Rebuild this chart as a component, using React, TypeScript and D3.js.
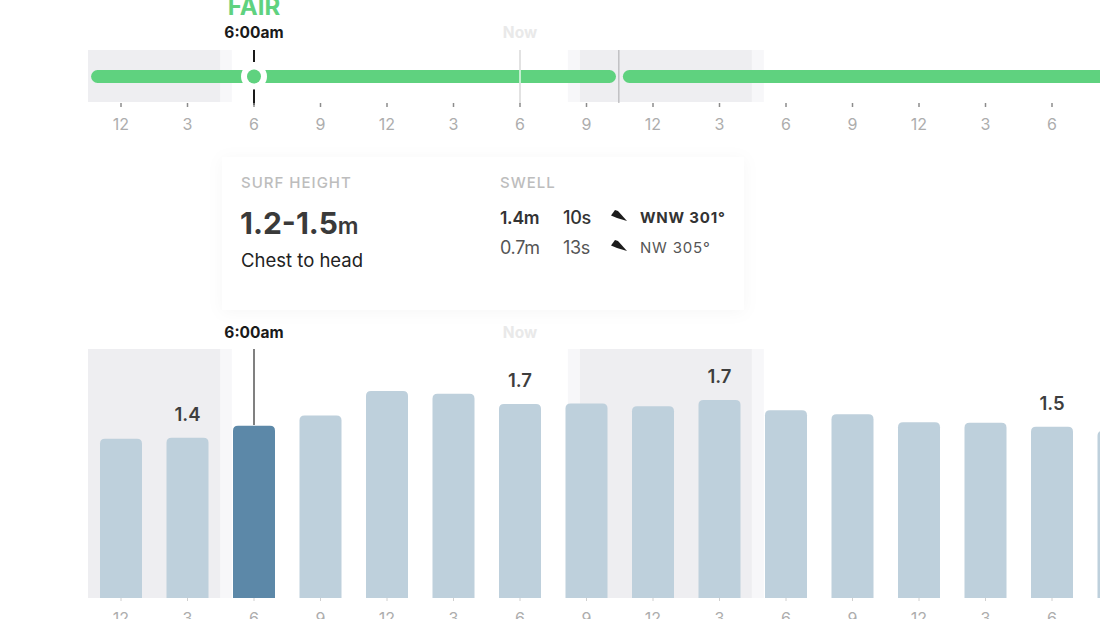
import React from 'react';
import * as d3 from 'd3';

const hours = [0, 3, 6, 9, 12, 15, 18, 21, 24, 27, 30, 33, 36, 39, 42, 45];
const tickLabels = ['12', '3', '6', '9', '12', '3', '6', '9', '12', '3', '6', '9', '12', '3', '6', '9'];
const surf = [1.4, 1.41, 1.515, 1.605, 1.82, 1.795, 1.705, 1.71, 1.685, 1.74, 1.65, 1.615, 1.545, 1.54, 1.505, 1.47];
const surfLabels = [null, '1.4', null, null, null, null, '1.7', null, null, '1.7', null, null, null, null, '1.5', null];
const nightBands = [[-1.49, 4.47], [20.7, 28.46]];
const twilightBands = [[4.47, 5], [20.16, 20.7], [28.46, 29]];
const conditionSegments = [[-1.35, 22.33], [22.64, 48]];
const selectedHour = 6;
const nowHour = 18;
const dayBreakHour = 22.46;
const swell = [
  { height: '1.4m', period: '10s', dir: 'WNW 301°', bold: true },
  { height: '0.7m', period: '13s', dir: 'NW 305°', bold: false },
];

const FONT = 'Inter, "Liberation Sans", sans-serif';
const GREEN = '#5fd27f';
const GREY_TEXT = '#adadad';
const BAR_BOTTOM = 598;

const x = d3.scaleLinear().domain([0, 45]).range([121, 1118.5]);
const y = d3.scaleLinear().domain([0, 1.82]).range([BAR_BOTTOM, 391]);

const barPath = (h: number, v: number) => {
  const w = 42;
  const r = 5;
  const left = x(h) - w / 2;
  const top = y(v);
  const p = d3.path();
  p.moveTo(left, BAR_BOTTOM);
  p.lineTo(left, top + r);
  p.quadraticCurveTo(left, top, left + r, top);
  p.lineTo(left + w - r, top);
  p.quadraticCurveTo(left + w, top, left + w, top + r);
  p.lineTo(left + w, BAR_BOTTOM);
  p.closePath();
  return p.toString();
};

const Bands = ({ top, bottom }: { top: number; bottom: number }) => (
  <g>
    {twilightBands.map(([a, b]) => (
      <rect key={a} x={x(a)} y={top} width={x(b) - x(a)} height={bottom - top} fill="#f7f7f9" />
    ))}
    {nightBands.map(([a, b]) => (
      <rect key={a} x={x(a)} y={top} width={x(b) - x(a)} height={bottom - top} fill="#eeeef1" />
    ))}
  </g>
);

const Arrow = ({ px, py }: { px: number; py: number }) => (
  <path d={`M${px - 1},${py + 6.5} L${px + 3},${py + 1} L${px + 6},${py + 2} L${px + 15},${py + 12} L${px + 5},${py + 9} Z`} fill="#1c1c1c" />
);

export default function App() {
  return (
    <svg width={1100} height={619} style={{ position: 'absolute', left: 0, top: 0, background: '#fff' }} fontFamily={FONT}>
      <defs>
        <filter id="cardShadow" x="-10%" y="-20%" width="120%" height="140%">
          <feDropShadow dx="0" dy="2" stdDeviation="8" floodColor="#000" floodOpacity="0.035" />
        </filter>
      </defs>

      {/* conditions strip */}
      <Bands top={50} bottom={102} />
      <text x={x(selectedHour)} y={15} textAnchor="middle" fontSize={24} fontWeight={700} fill={GREEN}>FAIR</text>
      <text x={x(selectedHour)} y={38} textAnchor="middle" fontSize={15.5} fontWeight={700} fill="#1a1a1a">6:00am</text>
      <text x={x(nowHour)} y={38} textAnchor="middle" fontSize={15.5} fontWeight={700} fill="#e9e9e9">Now</text>
      <line x1={x(nowHour)} x2={x(nowHour)} y1={50} y2={104} stroke="#d8d8d8" strokeWidth={1.5} />
      <line x1={x(dayBreakHour)} x2={x(dayBreakHour)} y1={50} y2={103} stroke="#a9a9ad" strokeWidth={1} />
      {conditionSegments.map(([a, b]) => (
        <rect key={a} x={x(a)} y={70} width={x(b) - x(a)} height={13} rx={6.5} fill={GREEN} />
      ))}
      <line x1={x(nowHour)} x2={x(nowHour)} y1={70} y2={83} stroke="#e4f8ea" strokeWidth={1.5} />
      <line x1={x(selectedHour)} x2={x(selectedHour)} y1={50} y2={62} stroke="#1a1a1a" strokeWidth={2} />
      <line x1={x(selectedHour)} x2={x(selectedHour)} y1={89} y2={105} stroke="#1a1a1a" strokeWidth={2} />
      <circle cx={x(selectedHour)} cy={76.5} r={13} fill="#fff" />
      <circle cx={x(selectedHour)} cy={76.5} r={7} fill={GREEN} />
      {hours.filter(h => x(h) < 1100).map((h, i) => (
        <g key={h}>
          <line x1={x(h)} x2={x(h)} y1={103} y2={107} stroke="#8c8c8c" strokeWidth={1.5} />
          <text x={x(h)} y={130} textAnchor="middle" fontSize={16} fill={GREY_TEXT}>{tickLabels[i]}</text>
        </g>
      ))}

      {/* surf bars */}
      <Bands top={349} bottom={598} />
      <text x={x(selectedHour)} y={338} textAnchor="middle" fontSize={15.5} fontWeight={700} fill="#1a1a1a">6:00am</text>
      <text x={x(nowHour)} y={338} textAnchor="middle" fontSize={15.5} fontWeight={700} fill="#e9e9e9">Now</text>
      <line x1={x(selectedHour)} x2={x(selectedHour)} y1={349} y2={425} stroke="#808080" strokeWidth={2} />
      {hours.map((h, i) => (
        <path key={h} d={barPath(h, surf[i])} fill={h === selectedHour ? '#5c88a8' : '#bed0dc'} />
      ))}
      {hours.map((h, i) => surfLabels[i] && (
        <text key={h} x={x(h)} y={y(surf[i]) - 17} textAnchor="middle" fontSize={18.5} fontWeight={600} fill="#3e3e3e">{surfLabels[i]}</text>
      ))}
      {hours.filter(h => x(h) < 1100).map((h, i) => (
        <g key={h}>
          <line x1={x(h)} x2={x(h)} y1={598} y2={601} stroke="#d0d0d0" strokeWidth={1} />
          <text x={x(h)} y={624} textAnchor="middle" fontSize={16} fill={GREY_TEXT}>{tickLabels[i]}</text>
        </g>
      ))}

      {/* detail card */}
      <rect x={222} y={157} width={522} height={153} fill="#fff" filter="url(#cardShadow)" />
      <text x={241} y={188} fontSize={15} fontWeight={500} letterSpacing={1} fill="#bdbdbd">SURF HEIGHT</text>
      <text x={500} y={188} fontSize={15} fontWeight={500} letterSpacing={1} fill="#bdbdbd">SWELL</text>
      <text x={240} y={234} fontSize={30} fontWeight={700} fill="#3a3a3a">
        1.2-1.5<tspan fontSize={23} fontWeight={600}>m</tspan>
      </text>
      <text x={241} y={267} fontSize={18.5} fill="#222">Chest to head</text>
      {swell.map((s, i) => {
        const rowY = 224 + i * 30;
        const weight = s.bold ? 600 : 400;
        const color = s.bold ? '#333' : '#555';
        return (
          <g key={s.dir}>
            <text x={500} y={rowY} fontSize={s.bold ? 17.5 : 18} fontWeight={weight} letterSpacing={-0.3} fill={color}>{s.height}</text>
            <text x={563} y={rowY} fontSize={18} fontWeight={s.bold ? 500 : 400} letterSpacing={-0.3} fill={color}>{s.period}</text>
            <Arrow px={612} py={rowY - 15} />
            <text x={640} y={rowY - 1} fontSize={15} fontWeight={s.bold ? 700 : 400} letterSpacing={0.8} fill={color}>{s.dir}</text>
          </g>
        );
      })}
    </svg>
  );
}
